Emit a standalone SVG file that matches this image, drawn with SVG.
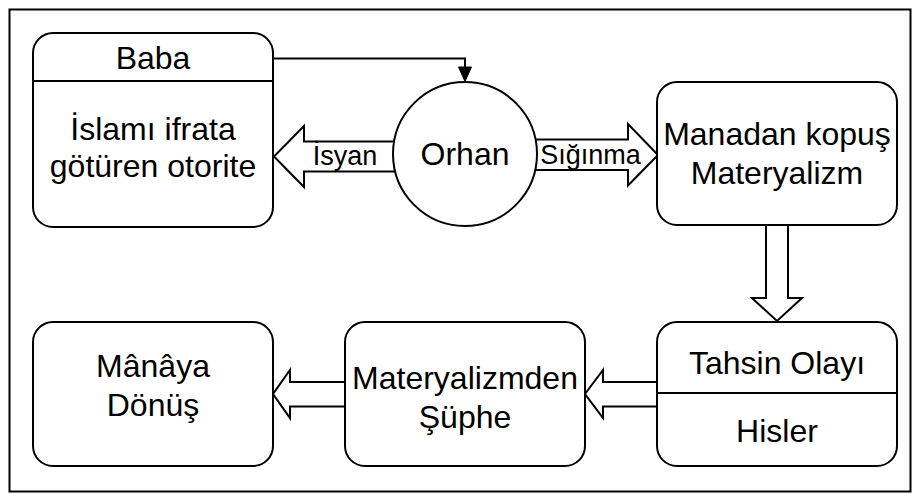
<svg xmlns="http://www.w3.org/2000/svg" width="912" height="494" viewBox="0 0 912 494">
  <style>
    .box { fill: #ffffff; stroke: #000000; stroke-width: 2; }
    .sep { stroke: #000000; stroke-width: 2; fill: none; }
    .blk { fill: #ffffff; stroke: #000000; stroke-width: 2; stroke-linejoin: miter; }
    .line { fill: none; stroke: #000000; stroke-width: 2; }
    .t { font-family: "Liberation Sans", Arial, sans-serif; font-size: 32px; fill: #000000; text-anchor: middle; }
    .lbl { font-family: "Liberation Sans", Arial, sans-serif; font-size: 27px; fill: #000000; text-anchor: middle; }
  </style>

  <!-- outer frame -->
  <rect x="9.5" y="9.5" width="901" height="482" fill="#ffffff" stroke="#000000" stroke-width="2"/>

  <g id="connectors">
    <!-- Baba to Orhan -->
    <polyline class="line" points="273,58.5 465,58.5 465,68"/>
    <polygon points="458.5,67 471.5,67 465,81.5" fill="#000000" stroke="#000000" stroke-width="1"/>
    <!-- İsyan: Orhan to Baba -->
    <polygon class="blk" points="396,141.5 304,141.5 304,126 274,156.5 304,187 304,171.5 396,171.5"/>
    <text class="lbl" x="345" y="165">İsyan</text>
    <!-- Sığınma: Orhan to Manadan kopuş -->
    <polygon class="blk" points="534,139.5 628,139.5 628,124 658,155 628,185.5 628,170 534,170"/>
    <text class="lbl" x="590.5" y="163.5">Sığınma</text>
    <!-- Manadan kopuş to Tahsin Olayı -->
    <polygon class="blk" points="766,225 788,225 788,298 802,298 777,321 752,298 766,298"/>
    <!-- Tahsin Olayı to Materyalizmden Şüphe -->
    <polygon class="blk" points="657,382 603,382 603,370 585,394 603,418 603,406.5 657,406.5"/>
    <!-- Materyalizmden Şüphe to Mânâya Dönüş -->
    <polygon class="blk" points="345,382 290,382 290,370 273,394 290,418 290,406.5 345,406.5"/>
  </g>

  <g id="baba">
    <rect class="box" x="33" y="33" width="240" height="194" rx="20" ry="20"/>
    <line class="sep" x1="33" y1="81" x2="273" y2="81"/>
    <text class="t" x="153" y="69">Baba</text>
    <text class="t" x="153" y="140">İslamı ifrata</text>
    <text class="t" x="153" y="177">götüren otorite</text>
  </g>

  <g id="orhan">
    <circle class="box" cx="465" cy="154" r="72"/>
    <text class="t" x="465" y="165">Orhan</text>
  </g>

  <g id="manadan">
    <rect class="box" x="657" y="82" width="240" height="143" rx="20" ry="20"/>
    <text class="t" x="777" y="145">Manadan kopuş</text>
    <text class="t" x="777" y="184">Materyalizm</text>
  </g>

  <g id="tahsin">
    <rect class="box" x="657" y="322" width="240" height="144" rx="20" ry="20"/>
    <line class="sep" x1="657" y1="393" x2="897" y2="393"/>
    <text class="t" x="777" y="374">Tahsin Olayı</text>
    <text class="t" x="777" y="442">Hisler</text>
  </g>

  <g id="suphe">
    <rect class="box" x="345" y="322" width="240" height="144" rx="20" ry="20"/>
    <text class="t" x="465" y="389">Materyalizmden</text>
    <text class="t" x="465" y="428">Şüphe</text>
  </g>

  <g id="mana">
    <rect class="box" x="33" y="322" width="240" height="144" rx="20" ry="20"/>
    <text class="t" x="153" y="377">Mânâya</text>
    <text class="t" x="153" y="416">Dönüş</text>
  </g>
</svg>
